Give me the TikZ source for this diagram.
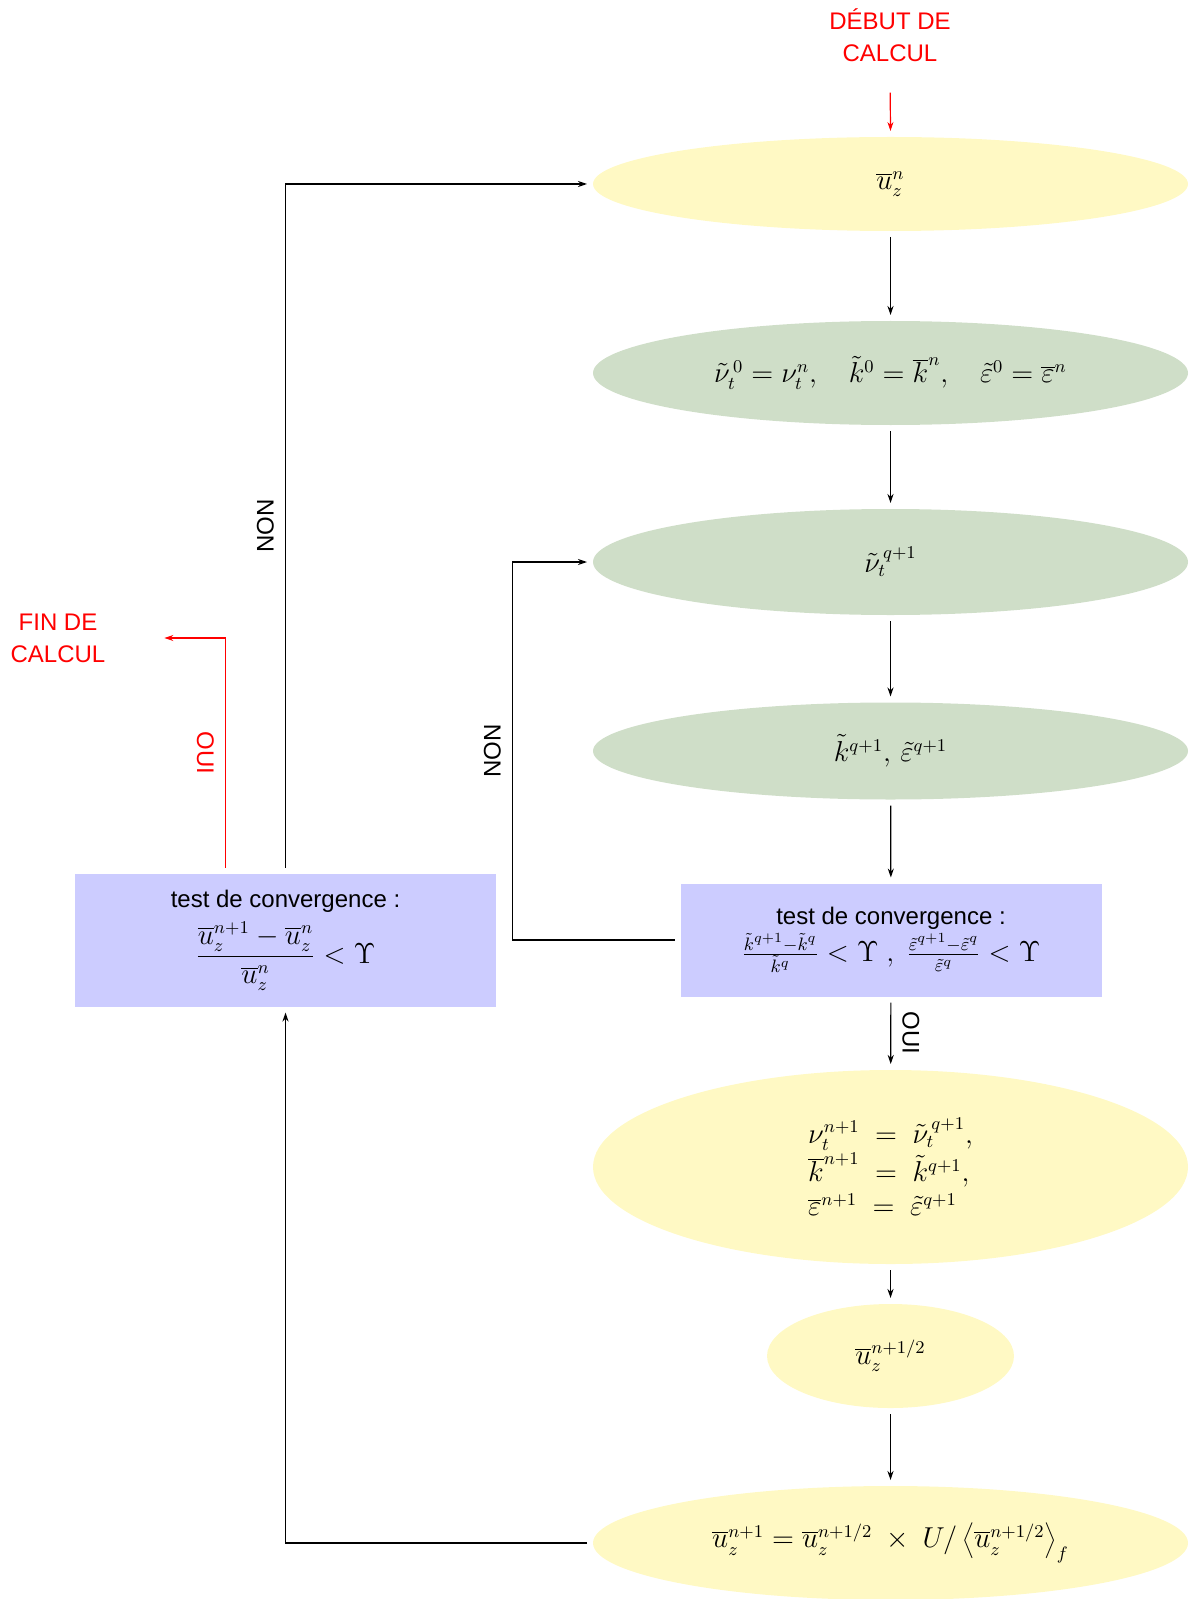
\documentclass[tikz,border=0pt]{standalone}
\usepackage[no-math]{fontspec}
\setmainfont{Liberation Sans}
\usetikzlibrary{shapes.geometric,arrows.meta}
\definecolor{cyel}{RGB}{255,249,196}
\definecolor{cgrn}{RGB}{207,222,200}
\definecolor{cblu}{RGB}{204,204,255}
\newcommand{\mymath}[1]{{\fontsize{13.5}{17}\selectfont$#1$}}
\tikzset{
  ell/.style={ellipse, draw=none, minimum width=297.5pt, inner sep=0pt, outer sep=3pt},
  yel/.style={ell, fill=cyel},
  grn/.style={ell, fill=cgrn},
  testbox/.style={rectangle, draw=none, fill=cblu, minimum width=210.5pt, inner sep=0pt, outer sep=3pt, align=center},
  conn/.style={->, line width=0.6pt},
  redconn/.style={->, line width=0.6pt, red},
  vlab/.style={inner sep=5.5pt},
  lbl/.style={align=center, text=red}
}
\begin{document}
\begin{tikzpicture}[x=0.5pt, y=-0.5pt, font=\fontsize{12}{16}\selectfont,
  >={Stealth[length=4.5pt,width=3pt]}]
\useasboundingbox (0,0) rectangle (1188,1599);

\node[lbl] (deb) at (890,35) {DÉBUT DE\\CALCUL};
\node[lbl] (fin) at (58,638) {FIN DE\\CALCUL};

\node[yel, minimum height=47pt] (e1) at (890.5,184) {\mymath{\overline{u}_z^{n}}};
\node[grn, minimum height=52pt] (e2) at (890.5,373) {\mymath{\tilde{\nu}_t^{\,0} = \nu_t^{n},\quad \tilde{k}^{0} = \overline{k}^{n},\quad \tilde{\varepsilon}^{0} = \overline{\varepsilon}^{n}}};
\node[grn, minimum height=53pt] (e3) at (890.5,562) {\mymath{\tilde{\nu}_t^{\,q+1}}};
\node[grn, minimum height=48.5pt] (e4) at (890.5,751) {\mymath{\tilde{k}^{q+1},\, \tilde{\varepsilon}^{q+1}}};
\node[testbox, minimum height=56.5pt] (bR) at (891,940) {test de convergence :\\[1pt]
  \mymath{\frac{\tilde{k}^{q+1}-\tilde{k}^{q}}{\tilde{k}^{q}} < \Upsilon\ ,\ \frac{\tilde{\varepsilon}^{q+1}-\tilde{\varepsilon}^{q}}{\tilde{\varepsilon}^{q}} < \Upsilon}};
\node[yel, minimum height=97pt, align=left, font=\fontsize{13.5}{17}\selectfont] (e5) at (890.5,1167) {%
  $\nu_t^{n+1}\ =\ \tilde{\nu}_t^{\,q+1},$\\
  $\overline{k}^{n+1}\ =\ \tilde{k}^{q+1},$\\
  $\overline{\varepsilon}^{n+1}\ =\ \tilde{\varepsilon}^{q+1}$};
\node[yel, minimum width=123.5pt, minimum height=52pt] (e6) at (890.5,1356) {\mymath{\overline{u}_z^{n+1/2}}};
\node[yel, minimum height=57pt] (e7) at (890.5,1543) {\mymath{\overline{u}_z^{n+1} = \overline{u}_z^{n+1/2}\ \times\ U/\left\langle\overline{u}_z^{n+1/2}\right\rangle_{f}}};
\node[testbox, minimum height=66.5pt] (bL) at (285.5,940) {test de convergence :\\[4pt]
  \mymath{\displaystyle\frac{\overline{u}_z^{n+1}-\overline{u}_z^{n}}{\overline{u}_z^{n}} < \Upsilon}};

\draw[redconn, shorten <=12pt] (deb.south) -- (e1.north);
\draw[conn] (e1) -- (e2);
\draw[conn] (e2) -- (e3);
\draw[conn] (e3) -- (e4);
\draw[conn] (e4) -- (bR);
\draw[conn] (bR) -- node[vlab, rotate=-90, anchor=south] {OUI} (e5);
\draw[conn] (e5) -- (e6);
\draw[conn] (e6) -- (e7);
\draw[conn] (e7.west) -| (bL.south);
\draw[conn] (bL.north) |- node[pos=0.25, vlab, rotate=90, anchor=south] {NON} (e1.west);
\draw[conn] (bR.west) -- ++(-162,0) |- node[pos=0.25, vlab, rotate=90, anchor=south] {NON} (e3.west);
\draw[redconn, shorten >=26pt] ([xshift=-30pt]bL.north) |- node[pos=0.25, vlab, rotate=-90, anchor=north, text=red] {OUI} (fin.east);
\end{tikzpicture}
\end{document}
